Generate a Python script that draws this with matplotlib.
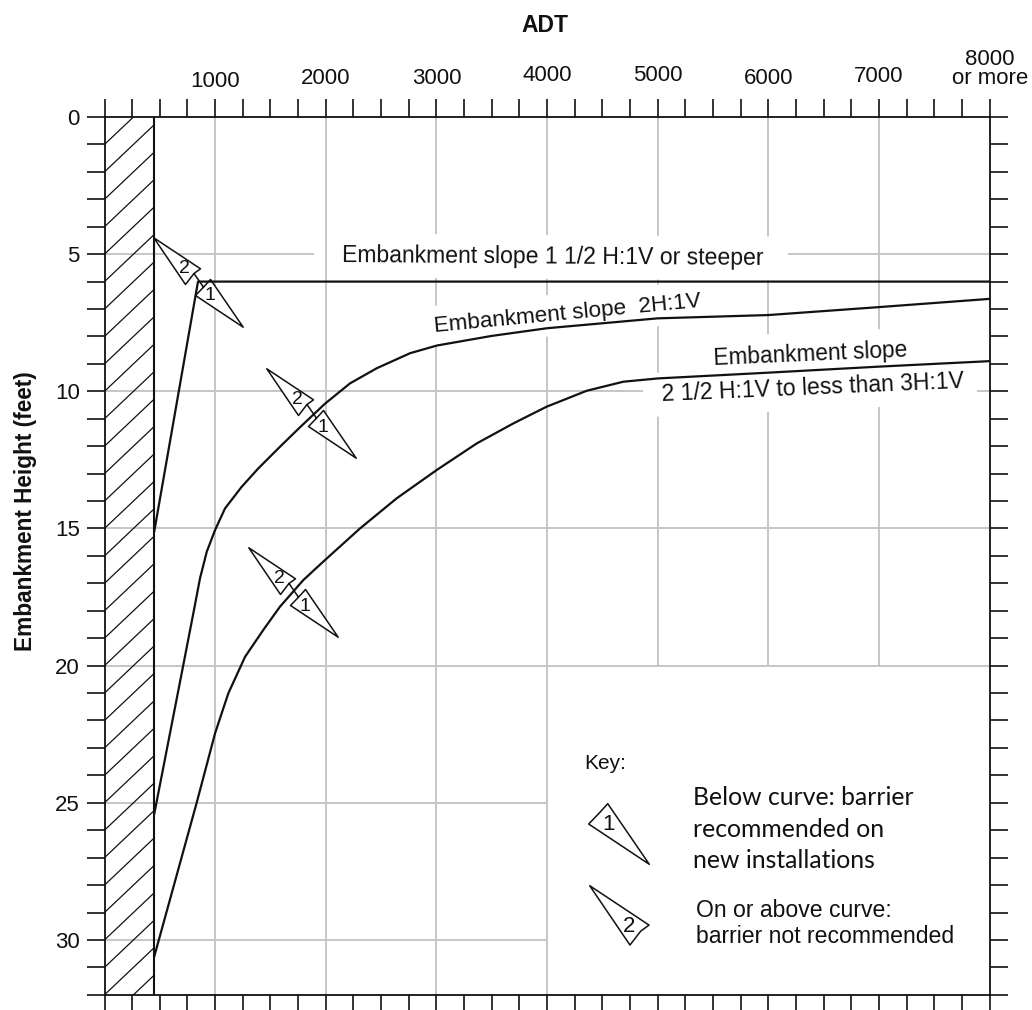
import numpy as np
import matplotlib
matplotlib.use('Agg')
import matplotlib.pyplot as plt
from matplotlib.path import Path
from matplotlib.transforms import ScaledTranslation

plt.rcParams['font.family'] = ['Liberation Sans', 'DejaVu Sans']

# curves (ADT, embankment height)
curve_a_adt = [450, 845, 8000]
curve_a_h = [15.1, 6.0, 6.0]

curve_b_adt = [450, 712, 803, 863, 924, 999, 1089, 1240, 1390, 1586, 1767, 1993, 2219, 2460, 2762, 3005, 3500, 4000, 5000, 6000, 7000, 8000]
curve_b_h = [25.4, 19.98, 18.09, 16.82, 15.85, 15.06, 14.27, 13.48, 12.81, 12.02, 11.31, 10.45, 9.71, 9.16, 8.61, 8.33, 7.98, 7.7, 7.34, 7.22, 6.93, 6.63]

curve_c_adt = [450, 833, 999, 1119, 1270, 1435, 1586, 1797, 1993, 2309, 2641, 3002, 3364, 3695, 3996, 4358, 4689, 5002, 6000, 7000, 8000]
curve_c_h = [30.6, 25.0, 22.47, 21.01, 19.68, 18.7, 17.85, 16.88, 16.15, 15.0, 13.9, 12.87, 11.9, 11.17, 10.56, 9.98, 9.65, 9.53, 9.32, 9.1, 8.9]

wall_adt = 450
hatch_starts = list(range(1, 35))
hatch_rise = 1.72

adt_major = [1000, 2000, 3000, 4000, 5000, 6000, 7000, 8000]
adt_labels = ['1000', '2000', '3000', '4000', '5000', '6000', '7000', '8000\nor more']
adt_minor = list(range(0, 8001, 250))
height_major = [0, 5, 10, 15, 20, 25, 30]
height_minor = list(range(0, 33))

# light grid, each line with how far it runs
grid_adt = [1000, 2000, 3000, 4000, 5000, 6000, 7000]
grid_adt_end = [32, 32, 32, 32, 20, 20, 20]
grid_h_from = [0, 6180, 0, 7885, 0, 0, 0, 0]
grid_h_to = [1890, 8000, 4865, 8000, 8000, 8000, 4000, 4000]
grid_h = [5, 5, 10, 10, 15, 20, 25, 30]

flag_adt = [845, 1868, 1706]
flag_h = [6.02, 10.8, 17.33]

GRAY = '#c6c6c6'
INK = '#111111'

# flag shape, relative to the point on the curve
tri2 = [(-44.7, 44.7), (2, 13.7), (-4.5, 9), (-13, -2)]
tri1 = [(44.7, -44.7), (-3, -13), (5, -4.7), (12, 3)]
link = [(-4.5, 9), (5, -4.7)]


def poly(points):
    verts = points + [points[0]]
    codes = [Path.MOVETO] + [Path.LINETO] * (len(points) - 1) + [Path.CLOSEPOLY]
    return verts, codes


v2, c2 = poly(tri2)
v1, c1 = poly(tri1)
flag_marker = Path(v2 + v1 + link, c2 + c1 + [Path.MOVETO, Path.LINETO])
key1_marker = Path(v1, c1)
key2_marker = Path(v2, c2)

fig = plt.figure(figsize=(10.32, 10.10), dpi=100)
ax = fig.add_axes([104.5 / 1032, (1010 - 994.8) / 1010, (989.7 - 104.5) / 1032, (994.8 - 117) / 1010])
ax.set_xlim(0, 8000)
ax.set_ylim(32, 0)

for x, end in zip(grid_adt, grid_adt_end):
    ax.vlines(x, 0, end, color=GRAY, lw=1.4, zorder=1)
for y, x0, x1 in zip(grid_h, grid_h_from, grid_h_to):
    ax.hlines(y, x0, x1, color=GRAY, lw=1.4, zorder=1)

# hatched zone left of the wall
for y0 in hatch_starts:
    ax.plot([0, wall_adt], [y0, y0 - hatch_rise], color=INK, lw=0.9, zorder=2)
ax.axvline(wall_adt, color=INK, lw=1.5, zorder=3)

for xs, ys in [(curve_a_adt, curve_a_h), (curve_b_adt, curve_b_h), (curve_c_adt, curve_c_h)]:
    ax.plot(xs, ys, color=INK, lw=1.6, zorder=4, solid_joinstyle='round')

ax.plot(flag_adt, flag_h, ls='none', marker=flag_marker, ms=64.4, mfc='white', mec=INK, mew=1.1, zorder=3.5)
for x, y in zip(flag_adt, flag_h):
    ax.annotate('2', (x, y), xytext=(-10, 9.9), textcoords='offset points', ha='center', va='center', fontsize=14, color=INK, zorder=6)
    ax.annotate('1', (x, y), xytext=(8.7, -9.9), textcoords='offset points', ha='center', va='center', fontsize=14, color=INK, zorder=6)

white = dict(boxstyle='square,pad=0.45', fc='white', ec='none')
ax.text(4050, 5.1, 'Embankment slope 1 1/2 H:1V or steeper', fontsize=16.6, ha='center', va='center',
        rotation=-0.4, rotation_mode='anchor', color=INK, bbox=white, zorder=2.5)
ax.text(4180, 7.18, 'Embankment slope  2H:1V', fontsize=16.2, ha='center', va='center',
        rotation=5.4, rotation_mode='anchor', color=INK, bbox=white, zorder=2.5)
ax.text(6376, 8.64, 'Embankment slope', fontsize=16.3, ha='center', va='center',
        rotation=2.5, rotation_mode='anchor', color=INK, bbox=white, zorder=2.5)
ax.text(6398, 9.88, '2 1/2 H:1V to less than 3H:1V', fontsize=16.6, ha='center', va='center',
        rotation=2.5, rotation_mode='anchor', color=INK, bbox=white, zorder=2.5)

# key
ax.text(4340, 23.55, 'Key:', fontsize=15, ha='left', va='center', color=INK, zorder=6)
ax.text(5320, 25.96, 'Below curve: barrier\nrecommended on\nnew installations', family=['Lato', 'DejaVu Sans'],
        fontsize=17.8, ha='left', va='center', linespacing=1.44, color=INK, zorder=6)
ax.text(5345, 29.4, 'On or above curve:\nbarrier not recommended', fontsize=16.6, ha='left', va='center',
        linespacing=1.16, color=INK, zorder=6)
ax.plot([4405], [25.17], ls='none', marker=key1_marker, ms=81.8, mfc='white', mec=INK, mew=1.1, zorder=5)
ax.plot([4892], [30.09], ls='none', marker=key2_marker, ms=81.8, mfc='white', mec=INK, mew=1.1, zorder=5)
ax.text(4555, 25.8, '1', fontsize=16, ha='center', va='center', color=INK, zorder=6)
ax.text(4740, 29.5, '2', fontsize=16, ha='center', va='center', color=INK, zorder=6)

# ticks on all four sides
ax.set_xticks(adt_minor, minor=True)
ax.set_yticks(height_minor, minor=True)
ax.set_xticks(adt_major)
ax.set_xticklabels(adt_labels, linespacing=0.85)
ax.set_yticks(height_major)
ax.tick_params(which='both', direction='out', length=13.3, width=1.2, color=INK,
               top=True, bottom=True, left=True, right=True, labeltop=True, labelbottom=False)
ax.tick_params(axis='x', which='major', labelsize=16, pad=7, labelcolor=INK)
ax.tick_params(axis='y', which='major', labelsize=16, pad=4.5, labelcolor=INK)

for tick in ax.xaxis.get_major_ticks()[:-1]:
    tick.tick1line.set_color(GRAY)
    tick.tick2line.set_color(GRAY)
for tick in ax.yaxis.get_major_ticks()[1:]:
    tick.tick1line.set_color(GRAY)
    tick.tick2line.set_color(GRAY)

# the labels along the top do not sit quite level in the source
label_nudge = [-2, 0, 0, 2, 2, 0, 1, 0]
for lab, dy in zip(ax.get_xticklabels(), label_nudge):
    lab.set_transform(lab.get_transform() + ScaledTranslation(0, dy / 72, fig.dpi_scale_trans))

for side in ax.spines.values():
    side.set_linewidth(1.3)
    side.set_color(INK)

ax.xaxis.set_label_position('top')
ax.set_xlabel('ADT', fontsize=16.5, fontweight='bold', color=INK)
ax.xaxis.set_label_coords((545 - 104.5) / 885.2, (994.8 - 32) / 877.8, transform=ax.transAxes)
ax.set_ylabel('Embankment Height (feet)', fontsize=16.3, fontweight='bold', color=INK)
ax.yaxis.set_label_coords((37 - 104.5) / 885.2, (994.8 - 511) / 877.8, transform=ax.transAxes)

fig.savefig('out.png', dpi=100, facecolor='white')
